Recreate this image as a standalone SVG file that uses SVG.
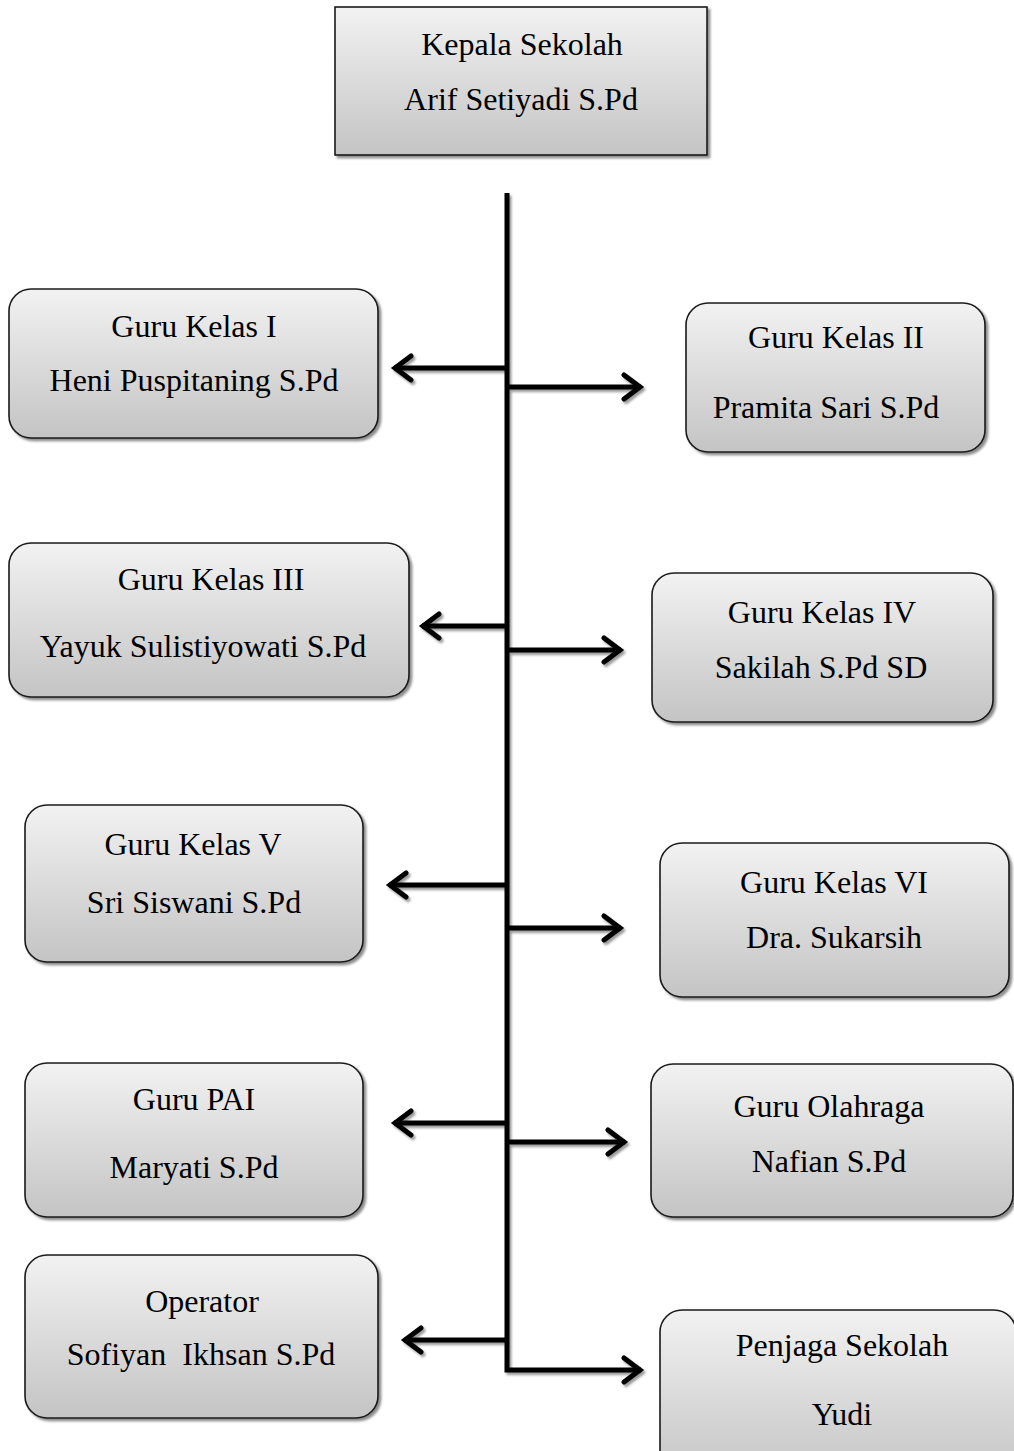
<svg xmlns="http://www.w3.org/2000/svg" width="1014" height="1451" viewBox="0 0 1014 1451">
<style>
.box{fill:url(#g);stroke:#1a1a1a;stroke-width:1.6;filter:url(#sh)}
.t{font-family:"Liberation Serif","Times New Roman",serif;font-size:32px;fill:#000;text-anchor:middle;white-space:pre}
.c{stroke:#000;stroke-width:5;fill:none}
.a{marker-end:url(#ah)}
</style>
<defs>
<linearGradient id="g" x1="0" y1="0" x2="0" y2="1">
<stop offset="0" stop-color="#f2f2f2"/>
<stop offset="1" stop-color="#c4c4c4"/>
</linearGradient>
<filter id="sh" x="-5%" y="-5%" width="115%" height="115%">
<feDropShadow dx="2.5" dy="2.5" stdDeviation="1" flood-color="#000" flood-opacity="0.45"/>
</filter>
<filter id="csh" x="-10%" y="-10%" width="130%" height="130%">
<feDropShadow dx="2" dy="2.5" stdDeviation="0.8" flood-color="#000" flood-opacity="0.4"/>
</filter>
<marker id="ah" markerUnits="userSpaceOnUse" viewBox="0 0 26 30" refX="22" refY="15" markerWidth="26" markerHeight="30" orient="auto">
<path d="M5,3 L21,15 L5,27" fill="none" stroke="#000" stroke-width="5" stroke-linecap="round" stroke-linejoin="miter"/>
</marker>
</defs>

<g id="connectors" filter="url(#csh)">
<path class="c" d="M507,193 V1370 H641" marker-end="url(#ah)"/>
<line class="c a" x1="507" y1="368" x2="394" y2="368"/>
<line class="c a" x1="507" y1="387" x2="641" y2="387"/>
<line class="c a" x1="507" y1="626" x2="422" y2="626"/>
<line class="c a" x1="507" y1="650" x2="621" y2="650"/>
<line class="c a" x1="507" y1="885" x2="389" y2="885"/>
<line class="c a" x1="507" y1="928" x2="621" y2="928"/>
<line class="c a" x1="507" y1="1123" x2="394" y2="1123"/>
<line class="c a" x1="507" y1="1142" x2="625" y2="1142"/>
<line class="c a" x1="507" y1="1340" x2="404" y2="1340"/>
</g>

<g id="kepala">
<rect class="box" x="335" y="7" width="372" height="148"/>
<text class="t" x="522" y="55">Kepala Sekolah</text>
<text class="t" x="521" y="110">Arif Setiyadi S.Pd</text>
</g>

<g id="guru1">
<rect class="box" x="9" y="289" width="369" height="149" rx="22"/>
<text class="t" x="194" y="337">Guru Kelas I</text>
<text class="t" x="194" y="391">Heni Puspitaning S.Pd</text>
</g>

<g id="guru2">
<rect class="box" x="686" y="303" width="299" height="149" rx="22"/>
<text class="t" x="836" y="348">Guru Kelas II</text>
<text class="t" x="826" y="418">Pramita Sari S.Pd</text>
</g>

<g id="guru3">
<rect class="box" x="9" y="543" width="400" height="154" rx="22"/>
<text class="t" x="211" y="590">Guru Kelas III</text>
<text class="t" x="203" y="657">Yayuk Sulistiyowati S.Pd</text>
</g>

<g id="guru4">
<rect class="box" x="652" y="573" width="341" height="149" rx="22"/>
<text class="t" x="822" y="623">Guru Kelas IV</text>
<text class="t" x="821" y="678">Sakilah S.Pd SD</text>
</g>

<g id="guru5">
<rect class="box" x="25" y="805" width="338" height="157" rx="22"/>
<text class="t" x="193" y="855">Guru Kelas V</text>
<text class="t" x="194" y="913">Sri Siswani S.Pd</text>
</g>

<g id="guru6">
<rect class="box" x="660" y="843" width="349" height="154" rx="22"/>
<text class="t" x="834" y="893">Guru Kelas VI</text>
<text class="t" x="834" y="948">Dra. Sukarsih</text>
</g>

<g id="gurupai">
<rect class="box" x="25" y="1063" width="338" height="154" rx="22"/>
<text class="t" x="194" y="1110">Guru PAI</text>
<text class="t" x="194" y="1178">Maryati S.Pd</text>
</g>

<g id="guruolahraga">
<rect class="box" x="651" y="1064" width="362" height="153" rx="22"/>
<text class="t" x="829" y="1117">Guru Olahraga</text>
<text class="t" x="829" y="1172">Nafian S.Pd</text>
</g>

<g id="operator">
<rect class="box" x="25" y="1255" width="353" height="163" rx="22"/>
<text class="t" x="202" y="1312">Operator</text>
<text class="t" x="201" y="1365">Sofiyan  Ikhsan S.Pd</text>
</g>

<g id="penjaga">
<rect class="box" x="660" y="1310" width="356" height="170" rx="22"/>
<text class="t" x="842" y="1356">Penjaga Sekolah</text>
<text class="t" x="842" y="1425">Yudi</text>
</g>
</svg>
